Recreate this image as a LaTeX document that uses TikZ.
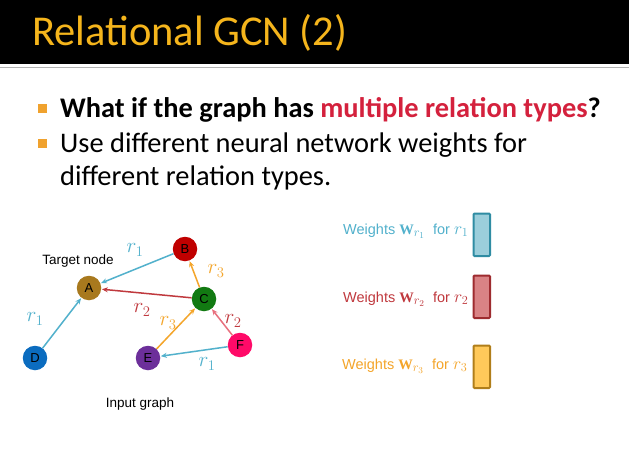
\RequirePackage{fix-cm}
\documentclass[tikz,border=0pt]{standalone}
\usepackage{fontspec}
\setmainfont{Carlito}
\newfontfamily\arialf{Liberation Sans}
\newfontfamily\serifm{Liberation Serif}
\usetikzlibrary{arrows.meta}
\definecolor{titley}{HTML}{F5B51C}
\definecolor{bulleto}{HTML}{F0A22E}
\definecolor{hired}{HTML}{D4213D}
\definecolor{cA}{HTML}{A8791E}
\definecolor{cB}{HTML}{C00000}
\definecolor{cC}{HTML}{127A12}
\definecolor{cD}{HTML}{0B6CBF}
\definecolor{cE}{HTML}{6C2F9A}
\definecolor{cF}{HTML}{FF0A68}
\definecolor{rblue}{HTML}{52B1CC}
\definecolor{rred}{HTML}{C0393E}
\definecolor{rpink}{HTML}{E8707E}
\definecolor{rorange}{HTML}{F4A52A}
\definecolor{bfill1}{HTML}{9BCEDB}
\definecolor{bdraw1}{HTML}{2F8CA3}
\definecolor{bfill2}{HTML}{D98385}
\definecolor{bdraw2}{HTML}{9E2B2F}
\definecolor{bfill3}{HTML}{FFC95A}
\definecolor{bdraw3}{HTML}{B07E1A}
\tikzset{
  gnode/.style={circle,minimum size=24.5pt,inner sep=0pt,font=\arialf\fontsize{13}{13}\selectfont,text=black},
  edge/.style={-{Stealth[length=6pt,width=5pt]},line width=1.5pt,shorten >=0.5pt},
  rlab/.style={font=\fontsize{21}{21}\selectfont,inner sep=0pt},
  wbox/.style={line width=2pt,rounded corners=1pt},
  wlab/.style={font=\arialf\fontsize{14.5}{14.5}\selectfont,anchor=base west,inner sep=0pt},
  bullet/.style={fill=bulleto,minimum size=9pt,inner sep=0pt},
  btext/.style={font=\fontsize{28.4}{28.4}\selectfont,anchor=base west,inner sep=0pt}
}
\newcommand\wsym[1]{{\serifm\bfseries W}{\fontsize{18}{18}\selectfont$_{r_{#1}}$}}
\newcommand\rsym[1]{{\fontsize{17.5}{17.5}\selectfont$r_{#1}$}}
\begin{document}
\begin{tikzpicture}[x=1pt,y=-1pt]
\useasboundingbox (0,0) rectangle (629,455);
\fill[white] (0,0) rectangle (629,455);
\fill[black] (0,0) rectangle (629,64.3);
\fill[black!30] (0,67) rectangle (629,68.3);
\node[font=\fontsize{42.5}{42.5}\selectfont,text=titley,anchor=base west,inner sep=0pt] (title) at (32,45.5) {Relational GCN (2)};
% bullets
\node[bullet] (b1) at (42.5,108) {};
\node[btext] (t1) at (60,117) {\bfseries What if the graph has \textcolor{hired}{multiple relation types}?};
\node[bullet] (b2) at (42.5,143.5) {};
\node[btext] (t2) at (60,152) {Use different neural network weights for};
\node[btext] (t3) at (60,185) {different relation types.};
% graph
\node[gnode,fill=cA] (A) at (89,288) {A};
\node[gnode,fill=cB] (B) at (185,249) {B};
\node[gnode,fill=cC] (C) at (204,299) {C};
\node[gnode,fill=cD] (D) at (35,358) {D};
\node[gnode,fill=cE] (E) at (148,358) {E};
\node[gnode,fill=cF] (F) at (240,345) {F};
\node[font=\arialf\fontsize{13.5}{13.5}\selectfont,inner sep=0pt] (tn) at (78,261) {Target node};
\node[font=\arialf\fontsize{13.5}{13.5}\selectfont,inner sep=0pt] (ig) at (140,404) {Input graph};
\draw[edge,rblue] (B) -- (A);
\draw[edge,rblue] (D) -- (A);
\draw[edge,rred] (C) -- (A);
\draw[edge,rorange] (C) -- (B);
\draw[edge,rorange] (E) -- (C);
\draw[edge,rpink] (F) -- (C);
\draw[edge,rblue] (F) -- (E);
\node[rlab,text=rblue] (l1) at (135,250) {$r_1$};
\node[rlab,text=rblue] (l2) at (35,319) {$r_1$};
\node[rlab,text=rred] (l3) at (142,310) {$r_2$};
\node[rlab,text=rorange] (l4) at (216,271) {$r_3$};
\node[rlab,text=rorange] (l5) at (168,323) {$r_3$};
\node[rlab,text=rred] (l6) at (233,321) {$r_2$};
\node[rlab,text=rblue] (l7) at (207,364) {$r_1$};
% legend
\draw[wbox,fill=bfill1,draw=bdraw1] (473.5,213.5) rectangle (490,256) coordinate (w1);
\draw[wbox,fill=bfill2,draw=bdraw2] (473.5,275.5) rectangle (490,318) coordinate (w2);
\draw[wbox,fill=bfill3,draw=bdraw3] (473.5,345.5) rectangle (490,388) coordinate (w3);
\node[wlab,text=rblue] (k1) at (343,234) {Weights \wsym{1}\ \ for \rsym{1}};
\node[wlab,text=rred] (k2) at (343,302) {Weights \wsym{2}\ \ for \rsym{2}};
\node[wlab,text=rorange] (k3) at (342,369) {Weights \wsym{3}\ \ for \rsym{3}};
\end{tikzpicture}
\end{document}
